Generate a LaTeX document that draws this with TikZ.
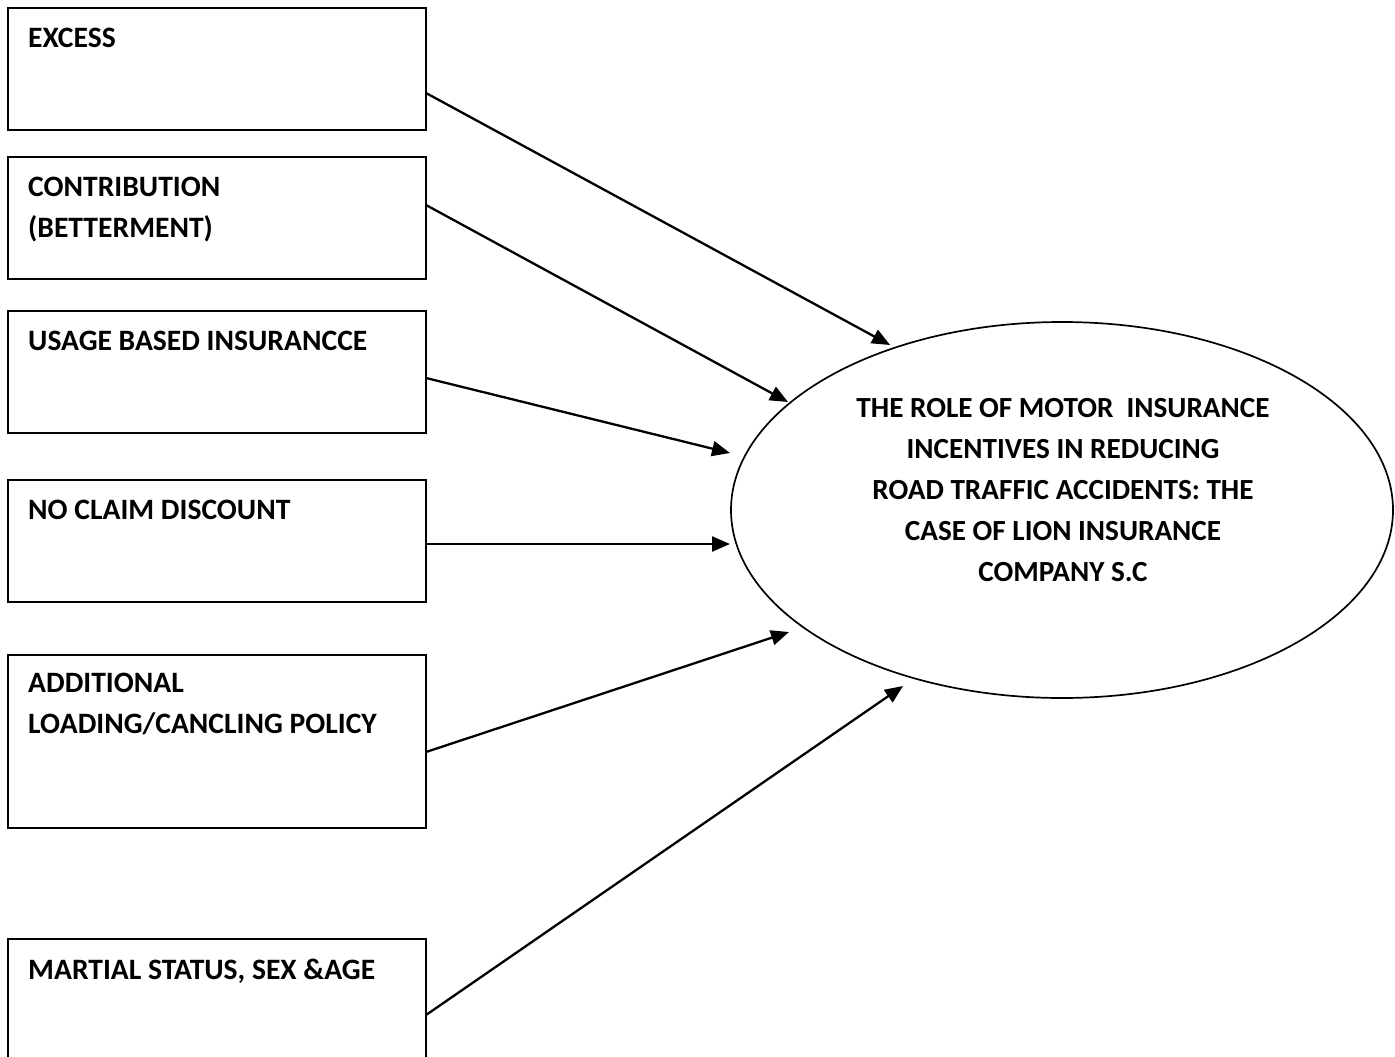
\documentclass[tikz,border=0pt]{standalone}
\usepackage{fontspec}
\setmainfont{Carlito}
\usetikzlibrary{arrows.meta,shapes.geometric}
\begin{document}
\begin{tikzpicture}[x=1pt,y=-1pt,
  boxnode/.style={draw,line width=2.3pt,minimum width=418pt,anchor=north west,inner sep=0pt,outer sep=0pt},
  lbl/.style={anchor=north west,inner sep=0pt,align=left,font=\fontsize{29.6}{41}\selectfont\bfseries},
  conn/.style={line width=2.3pt,-{Triangle[length=18pt,width=15pt]}}]
\clip (0,0) rectangle (1395,1057);
% boxes
\node[boxnode,minimum height=122pt] (b1) at (8,8) {};
\node[boxnode,minimum height=122pt] (b2) at (8,157) {};
\node[boxnode,minimum height=122pt] (b3) at (8,311) {};
\node[boxnode,minimum height=122pt] (b4) at (8,480) {};
\node[boxnode,minimum height=173pt] (b5) at (8,655) {};
\node[boxnode,minimum height=122pt] (b6) at (8,939) {};
% box texts
\node[lbl] (l1) at (28,28) {EXCESS};
\node[lbl] (l2) at (28,177) {CONTRIBUTION\\(BETTERMENT)};
\node[lbl] (l3) at (28,331) {USAGE BASED INSURANCCE};
\node[lbl] (l4) at (28,500) {NO CLAIM DISCOUNT};
\node[lbl] (l5) at (28,673) {ADDITIONAL\\LOADING/CANCLING POLICY};
\node[lbl] (l6) at (28,959) {MARTIAL STATUS, SEX \&AGE};
% ellipse
\node[draw,ellipse,line width=1.7pt,minimum width=662pt,minimum height=376pt,inner sep=0pt] (ell) at (1062,510) {};
\node[lbl,anchor=north,align=center,font=\fontsize{29.2}{41}\selectfont\bfseries] (et) at (1063,398) {THE ROLE OF MOTOR\ \ INSURANCE\\INCENTIVES IN REDUCING\\ROAD TRAFFIC ACCIDENTS: THE\\CASE OF LION INSURANCE\\COMPANY S.C};
% arrow tips
\coordinate (t1) at (890,345);
\coordinate (t2) at (788,402);
\coordinate (t3) at (730,453);
\coordinate (t4) at (730,544);
\coordinate (t5) at (789,632);
\coordinate (t6) at (903,686);
% connectors
\draw[conn] ([yshift=-24pt]b1.east) -- (t1);
\draw[conn] ([yshift=13pt]b2.east) -- (t2);
\draw[conn] ([yshift=-6pt]b3.east) -- (t3);
\draw[conn] ([yshift=-3pt]b4.east) -- (t4);
\draw[conn] ([yshift=-10.5pt]b5.east) -- (t5);
\draw[conn] ([yshift=-15pt]b6.east) -- (t6);
\end{tikzpicture}
\end{document}
